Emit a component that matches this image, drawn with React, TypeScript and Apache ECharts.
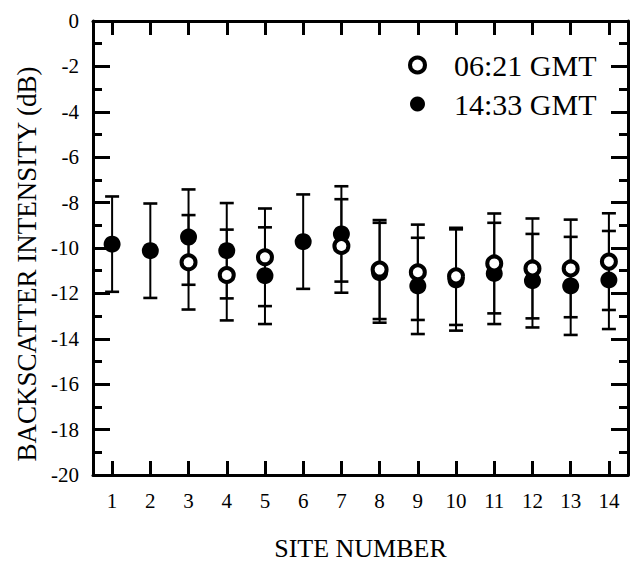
import React, { useEffect, useRef } from "react";
import * as echarts from "echarts";

const sites = ["1", "2", "3", "4", "5", "6", "7", "8", "9", "10", "11", "12", "13", "14"];
const yTicks = [-20, 0];
const open0621: (number | null)[] = [null, null, -10.63, -11.19, -10.41, null, -9.91, -10.95, -11.07, -11.25, -10.68, -10.9, -10.9, -10.6];
const open0621Err: (number | null)[] = [null, null, 2.08, 2.0, 2.15, null, 2.06, 2.18, 2.1, 2.14, 2.2, 2.2, 2.15, 2.13];
const filled1433: number[] = [-9.83, -10.12, -9.52, -10.12, -11.22, -9.72, -9.38, -11.09, -11.67, -11.41, -11.12, -11.44, -11.67, -11.41];
const filled1433Err: number[] = [2.1, 2.08, 2.1, 2.1, 2.13, 2.08, 2.1, 2.2, 2.12, 2.23, 2.23, 2.06, 2.16, 2.16];
const seriesNames = ["06:21 GMT", "14:33 GMT"];

const FONT = "Liberation Serif";

function errData(vals: (number | null)[], errs: (number | null)[]) {
  const out: number[][] = [];
  vals.forEach((v, i) => {
    const e = errs[i];
    if (v !== null && e !== null) out.push([i, v - e, v + e]);
  });
  return out;
}

function pointData(vals: (number | null)[]) {
  const out: number[][] = [];
  vals.forEach((v, i) => {
    if (v !== null) out.push([i, v]);
  });
  return out;
}

const renderErr = (params: any, api: any) => {
  const lo = api.coord([api.value(0), api.value(1)]);
  const hi = api.coord([api.value(0), api.value(2)]);
  const half = 7;
  const st = { stroke: "#000", lineWidth: 2 };
  const cap = { stroke: "#000", lineWidth: 2.6 };
  return {
    type: "group",
    children: [
      { type: "line", shape: { x1: lo[0], y1: lo[1], x2: hi[0], y2: hi[1] }, style: st },
      { type: "line", shape: { x1: lo[0] - half, y1: lo[1], x2: lo[0] + half, y2: lo[1] }, style: cap },
      { type: "line", shape: { x1: hi[0] - half, y1: hi[1], x2: hi[0] + half, y2: hi[1] }, style: cap },
    ],
  };
};

export default function App() {
  const ref = useRef<HTMLDivElement>(null);
  useEffect(() => {
    if (!ref.current) return;
    const chart = echarts.init(ref.current, null, { renderer: "svg" });
    const axisLine = { show: true, onZero: false, lineStyle: { color: "#000", width: 3 } };
    const yBase = {
      type: "value" as const,
      min: yTicks[0],
      max: yTicks[1],
      interval: 2,
      axisLine,
      axisTick: { show: true, inside: true, length: 17, lineStyle: { color: "#000", width: 3 } },
      minorTick: { show: true, splitNumber: 2, length: 9, lineStyle: { color: "#000", width: 3 } },
      splitLine: { show: false },
      minorSplitLine: { show: false },
    };
    const xBase = {
      type: "category" as const,
      data: sites,
      boundaryGap: true,
      axisLine,
      axisTick: { show: true, inside: true, alignWithLabel: true, length: 14, lineStyle: { color: "#000", width: 3 } },
      splitLine: { show: false },
    };
    chart.setOption({
      animation: false,
      backgroundColor: "#fff",
      grid: { left: 93, right: 10, top: 21, bottom: 86, containLabel: false, outerBoundsMode: "none" },
      legend: {
        orient: "vertical",
        left: 403,
        top: 45,
        itemWidth: 15,
        itemHeight: 15,
        itemGap: 9,
        textStyle: { fontFamily: FONT, fontSize: 30, color: "#000", padding: [0, 0, 0, 24] },
        data: [
          { name: seriesNames[0], icon: "circle", itemStyle: { color: "#fff", borderColor: "#000", borderWidth: 4 } },
          { name: seriesNames[1], icon: "circle", itemStyle: { color: "#000" } },
        ],
      },
      xAxis: [
        {
          ...xBase,
          position: "bottom",
          name: "SITE NUMBER",
          nameLocation: "middle",
          nameGap: 60,
          nameTextStyle: { fontFamily: FONT, fontSize: 26, color: "#000" },
          axisLabel: { show: true, margin: 15, fontFamily: FONT, fontSize: 21, color: "#000" },
        },
        { ...xBase, position: "top", axisLabel: { show: false } },
      ],
      yAxis: [
        {
          ...yBase,
          position: "left",
          name: "BACKSCATTER INTENSITY (dB)",
          nameLocation: "middle",
          nameGap: 51,
          nameTextStyle: { fontFamily: FONT, fontSize: 27, color: "#000", padding: [0, 32, 0, 0] },
          axisLabel: { show: true, margin: 14, fontFamily: FONT, fontSize: 21, color: "#000" },
        },
        { ...yBase, position: "right", axisLabel: { show: false } },
      ],
      series: [
        {
          type: "custom",
          name: seriesNames[1] + " err",
          renderItem: renderErr,
          encode: { x: 0, y: [1, 2] },
          data: errData(filled1433, filled1433Err),
          z: 1,
          silent: true,
        },
        {
          type: "custom",
          name: seriesNames[0] + " err",
          renderItem: renderErr,
          encode: { x: 0, y: [1, 2] },
          data: errData(open0621, open0621Err),
          z: 1,
          silent: true,
        },
        {
          type: "scatter",
          name: seriesNames[1],
          symbol: "circle",
          symbolSize: 17,
          itemStyle: { color: "#000", opacity: 1 },
          data: pointData(filled1433),
          z: 2,
        },
        {
          type: "scatter",
          name: seriesNames[0],
          symbol: "circle",
          symbolSize: 14,
          itemStyle: { color: "#fff", borderColor: "#000", borderWidth: 4, opacity: 1 },
          data: pointData(open0621),
          z: 3,
        },
      ],
    });
    return () => chart.dispose();
  }, []);
  return (
    <div
      ref={ref}
      style={{ position: "fixed", left: 0, top: 0, width: 638, height: 561, background: "#fff" }}
    />
  );
}
